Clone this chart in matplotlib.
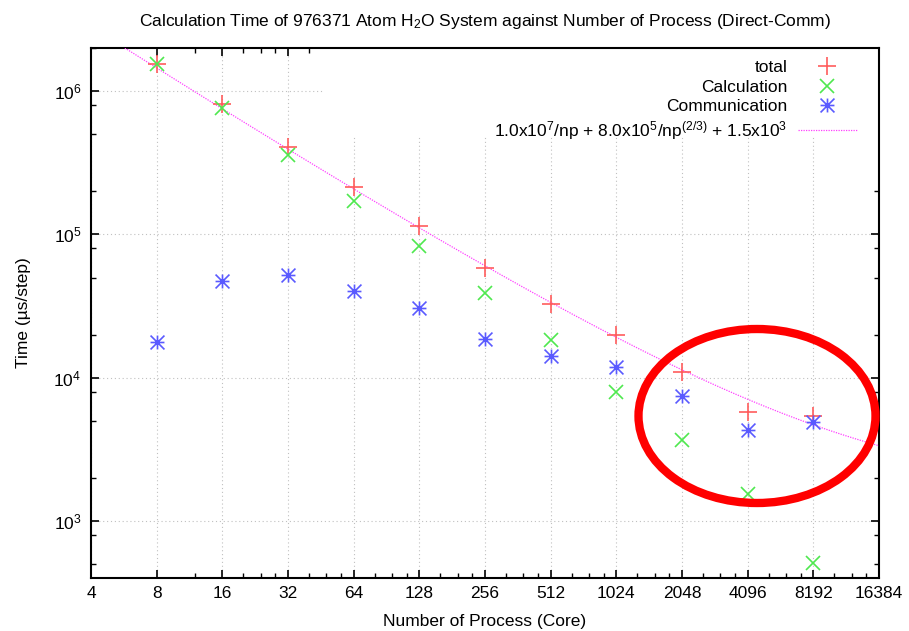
import numpy as np
import matplotlib
matplotlib.use("Agg")
import matplotlib.pyplot as plt
from matplotlib.path import Path
from matplotlib.patches import Ellipse, Rectangle
from matplotlib.ticker import FixedLocator, FixedFormatter, LogLocator, LogFormatterMathtext, NullFormatter

plt.rcParams['font.family'] = ['Liberation Sans', 'DejaVu Sans']
plt.rcParams['mathtext.fontset'] = 'custom'
plt.rcParams['mathtext.rm'] = 'Liberation Sans'
plt.rcParams['mathtext.it'] = 'Liberation Sans:italic'
plt.rcParams['mathtext.bf'] = 'Liberation Sans:bold'

# ---- data ----
procs = [8, 16, 32, 64, 128, 256, 512, 1024, 2048, 4096, 8192]
total = [1.55e6, 8.1e5, 4.1e5, 2.14e5, 1.14e5, 5.87e4, 3.26e4, 1.98e4, 1.10e4, 5.8e3, 5.4e3]
calculation = [1.55e6, 7.65e5, 3.6e5, 1.71e5, 8.25e4, 3.93e4, 1.83e4, 8.0e3, 3.68e3, 1.55e3, 5.06e2]
communication = [1.77e4, 4.74e4, 5.23e4, 4.04e4, 3.08e4, 1.86e4, 1.42e4, 1.18e4, 7.4e3, 4.3e3, 4.9e3]

# fit: a/np + b/np^(2/3) + c
fit_a, fit_b, fit_c = 1.0e7, 8.0e5, 1.5e3

x_ticks = [4, 8, 16, 32, 64, 128, 256, 512, 1024, 2048, 4096, 8192, 16384]
x_tick_labels = [str(v) for v in x_ticks]

title = r'Calculation Time of 976371 Atom H$_2$O System against Number of Process (Direct-Comm)'
xlabel = 'Number of Process (Core)'
ylabel = 'Time (\u00b5s/step)'
labels = ['total', 'Calculation', 'Communication',
          r'1.0x10$^7$/np + 8.0x10$^5$/np$^{(2/3)}$ + 1.5x10$^3$']

FS = 12.5

fig = plt.figure(figsize=(9.09, 6.31), dpi=100)
ax = fig.add_axes([91 / 909, 53 / 631, 788 / 909, 530 / 631])
ax.set_xscale('log', base=2)
ax.set_yscale('log')
ax.set_xlim(4, 16384)
ax.set_ylim(400, 2.0e6)

# star marker (+ and x overlaid)
star = Path([(-1, 0), (1, 0), (0, -1), (0, 1), (-1, -1), (1, 1), (-1, 1), (1, -1)],
            [Path.MOVETO, Path.LINETO] * 4)

xs = np.logspace(np.log10(4), np.log10(16384), 400)
fit = fit_a / xs + fit_b / xs ** (2.0 / 3.0) + fit_c

ms = 12.5
h1, = ax.plot(procs, total, linestyle='none', marker='+', ms=ms, mew=1.2,
              color='#ff5c5c', zorder=4)
h2, = ax.plot(procs, calculation, linestyle='none', marker='x', ms=ms * 0.75, mew=1.2,
              color='#4fe84f', zorder=4)
h3, = ax.plot(procs, communication, linestyle='none', marker=star, ms=ms * 0.8, mew=1.2,
              color='#5a5aff', zorder=4)
h4, = ax.plot(xs, fit, linestyle=(0, (1, 1)), lw=0.9, color='#ff40ff', zorder=3)

# grid
ax.set_axisbelow(True)
ax.grid(True, which='major', linestyle=(0, (1, 2.5)), color='#c0c0c0', lw=0.8)
# opaque key area blanks the grid
ax.add_patch(Rectangle(((323 - 91) / 788, (578 - 136) / 530), 1 - (323 - 91) / 788,
                       136 / 530, transform=ax.transAxes, facecolor='white',
                       edgecolor='none', zorder=1))

# ticks
ax.xaxis.set_major_locator(FixedLocator(x_ticks))
ax.xaxis.set_major_formatter(FixedFormatter(x_tick_labels))
minors = [12]
for k in range(4, 14):
    minors += [2 ** k * f for f in (1.25, 1.5, 1.75)]
ax.xaxis.set_minor_locator(FixedLocator(minors))
ax.xaxis.set_minor_formatter(NullFormatter())
ax.yaxis.set_major_locator(LogLocator(base=10, numticks=10))
ax.yaxis.set_major_formatter(LogFormatterMathtext())
ax.yaxis.set_minor_locator(LogLocator(base=10, subs=(2, 5, 8), numticks=10))
ax.yaxis.set_minor_formatter(NullFormatter())
ax.tick_params(which='both', direction='in', top=True, right=True, labelsize=FS)
ax.tick_params(which='major', length=6, width=1.2)
ax.tick_params(which='minor', length=3.5, width=1.0)
ax.tick_params(axis='x', pad=6)
ax.tick_params(axis='y', pad=7)
for s in ax.spines.values():
    s.set_linewidth(1.5)

ax.set_title(title, fontsize=FS, pad=16)
ax.set_xlabel(xlabel, fontsize=FS, labelpad=9)
ax.set_ylabel(ylabel, fontsize=FS, labelpad=16)

leg = ax.legend([h1, h2, h3, h4], labels, loc='upper right', markerfirst=False,
                frameon=False, fontsize=FS, handlelength=3.4, handletextpad=0.6,
                labelspacing=0.25, borderaxespad=0.4, borderpad=0.3,
                bbox_to_anchor=(1 - 10 / 788, 1.0))
leg.set_zorder(5)

# red highlight ellipse
ax.add_patch(Ellipse(((757 - 91) / 788, (578 - 416) / 530), 237 / 788, 174 / 530,
                     transform=ax.transAxes, fill=False, edgecolor='#ff0000',
                     lw=6, clip_on=False, zorder=6))

fig.savefig('out.png', dpi=100)
